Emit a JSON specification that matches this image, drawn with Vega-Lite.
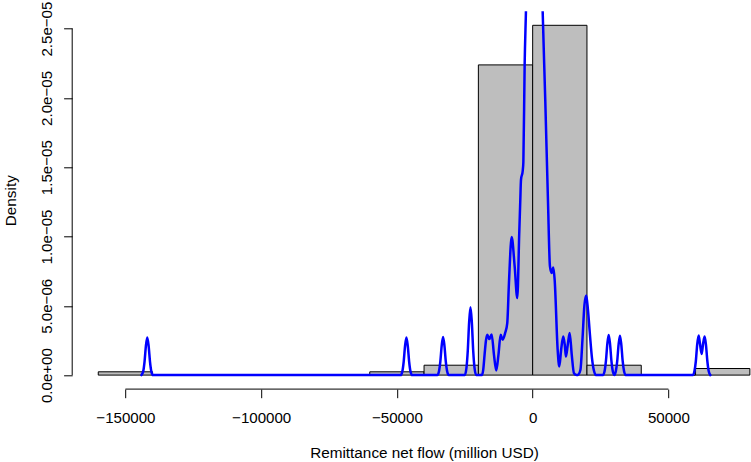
{
  "$schema": "https://vega.github.io/schema/vega-lite/v6.json",
  "width": 678.8,
  "height": 377.8,
  "autosize": {"type": "none"},
  "padding": {"left": 72.2, "top": 11.3, "right": 0, "bottom": 72.9},
  "background": "white",
  "config": {"view": {"stroke": null}, "font": "Liberation Sans"},
  "datasets": {
    "hist": [
      {"start": -160000, "end": -140000, "density": 2.381e-7},
      {"start": -140000, "end": -120000, "density": 0},
      {"start": -120000, "end": -100000, "density": 0},
      {"start": -100000, "end": -80000, "density": 0},
      {"start": -80000, "end": -60000, "density": 0},
      {"start": -60000, "end": -40000, "density": 2.381e-7},
      {"start": -40000, "end": -20000, "density": 7.143e-7},
      {"start": -20000, "end": 0, "density": 2.2381e-5},
      {"start": 0, "end": 20000, "density": 2.5238e-5},
      {"start": 20000, "end": 40000, "density": 7.143e-7},
      {"start": 40000, "end": 60000, "density": 0},
      {"start": 60000, "end": 80000, "density": 4.762e-7}
    ],
    "dens": [
      {"x": -144100, "y": 0}, {"x": -143450, "y": 0.27e-6}, {"x": -142950, "y": 0.98e-6}, {"x": -142450, "y": 2.11e-6},
      {"x": -141950, "y": 2.72e-6}, {"x": -141450, "y": 2.11e-6}, {"x": -140950, "y": 0.98e-6}, {"x": -140450, "y": 0.27e-6},
      {"x": -139850, "y": 0},
      {"x": -48600, "y": 0}, {"x": -48000, "y": 0.27e-6}, {"x": -47500, "y": 0.98e-6}, {"x": -47000, "y": 2.11e-6},
      {"x": -46500, "y": 2.72e-6}, {"x": -46000, "y": 2.11e-6}, {"x": -45500, "y": 0.98e-6}, {"x": -45000, "y": 0.27e-6},
      {"x": -44400, "y": 0},
      {"x": -35100, "y": 0}, {"x": -34500, "y": 0.28e-6}, {"x": -34000, "y": 0.99e-6}, {"x": -33500, "y": 2.13e-6},
      {"x": -33000, "y": 2.75e-6}, {"x": -32500, "y": 2.13e-6}, {"x": -32000, "y": 0.99e-6}, {"x": -31500, "y": 0.28e-6},
      {"x": -30900, "y": 0},
      {"x": -25000, "y": 0}, {"x": -24400, "y": 0.50e-6}, {"x": -23900, "y": 1.76e-6}, {"x": -23400, "y": 3.80e-6},
      {"x": -22900, "y": 4.90e-6}, {"x": -22400, "y": 3.80e-6}, {"x": -21900, "y": 1.76e-6}, {"x": -21400, "y": 0.50e-6},
      {"x": -20800, "y": 0},
      {"x": -18700, "y": 0}, {"x": -18200, "y": 0.4e-6}, {"x": -17700, "y": 1.5e-6}, {"x": -17200, "y": 2.5e-6},
      {"x": -16720, "y": 2.91e-6}, {"x": -15980, "y": 2.60e-6}, {"x": -15100, "y": 2.93e-6}, {"x": -14250, "y": 1.46e-6},
      {"x": -13400, "y": 0.33e-6}, {"x": -12600, "y": 1.46e-6}, {"x": -11790, "y": 2.91e-6}, {"x": -11050, "y": 2.55e-6},
      {"x": -10090, "y": 3.07e-6}, {"x": -9355, "y": 3.75e-6}, {"x": -8730, "y": 6.66e-6}, {"x": -7730, "y": 9.96e-6},
      {"x": -6630, "y": 7.84e-6}, {"x": -5670, "y": 5.56e-6}, {"x": -4940, "y": 10.25e-6}, {"x": -4550, "y": 12.65e-6},
      {"x": -4300, "y": 14.09e-6}, {"x": -3650, "y": 14.76e-6}, {"x": -3420, "y": 15.39e-6}, {"x": -2950, "y": 22.39e-6},
      {"x": -2470, "y": 26.28e-6}, {"x": -1900, "y": 31.5e-6}, {"x": 500, "y": 36e-6}, {"x": 3050, "y": 31.5e-6},
      {"x": 3680, "y": 26.28e-6}, {"x": 4640, "y": 19.86e-6}, {"x": 5630, "y": 12.65e-6}, {"x": 6370, "y": 7.84e-6},
      {"x": 7000, "y": 7.36e-6}, {"x": 7590, "y": 7.76e-6}, {"x": 8100, "y": 6.88e-6}, {"x": 9210, "y": 1.82e-6},
      {"x": 9800, "y": 0.62e-6}, {"x": 10530, "y": 1.9e-6}, {"x": 11270, "y": 2.78e-6}, {"x": 11820, "y": 2.19e-6},
      {"x": 12260, "y": 1.34e-6}, {"x": 12930, "y": 2.19e-6}, {"x": 13630, "y": 3.03e-6}, {"x": 14400, "y": 1.46e-6},
      {"x": 15210, "y": 0.14e-6}, {"x": 16200, "y": 0}, {"x": 16900, "y": 0.05e-6}, {"x": 17600, "y": 0.38e-6},
      {"x": 18340, "y": 2.55e-6}, {"x": 19080, "y": 5.07e-6}, {"x": 19740, "y": 5.74e-6}, {"x": 20370, "y": 4.71e-6},
      {"x": 21100, "y": 2.91e-6}, {"x": 21840, "y": 1.25e-6}, {"x": 22580, "y": 0.31e-6}, {"x": 23310, "y": 0},
      {"x": 25900, "y": 0}, {"x": 26500, "y": 0.29e-6}, {"x": 27000, "y": 1.04e-6}, {"x": 27500, "y": 2.25e-6},
      {"x": 28000, "y": 2.9e-6}, {"x": 28500, "y": 2.25e-6}, {"x": 29000, "y": 1.04e-6}, {"x": 29500, "y": 0.29e-6},
      {"x": 30100, "y": 0}, {"x": 30650, "y": 0.29e-6}, {"x": 31150, "y": 1.02e-6}, {"x": 31650, "y": 2.2e-6},
      {"x": 32150, "y": 2.84e-6}, {"x": 32650, "y": 2.2e-6}, {"x": 33150, "y": 1.02e-6}, {"x": 33650, "y": 0.29e-6},
      {"x": 34250, "y": 0},
      {"x": 59000, "y": 0}, {"x": 59600, "y": 0.29e-6}, {"x": 60100, "y": 1.0e-6}, {"x": 60600, "y": 2.2e-6},
      {"x": 61140, "y": 2.85e-6}, {"x": 61600, "y": 2.3e-6}, {"x": 62240, "y": 1.52e-6}, {"x": 62800, "y": 2.3e-6},
      {"x": 63350, "y": 2.78e-6}, {"x": 63850, "y": 2.15e-6}, {"x": 64350, "y": 1.0e-6}, {"x": 64850, "y": 0.28e-6},
      {"x": 65450, "y": 0}
    ]
  },
  "layer": [
    {
      "data": {"name": "hist"},
      "mark": {"type": "rect", "fill": "#BEBEBE", "stroke": "#000000", "strokeWidth": 1},
      "encoding": {
        "x": {
          "field": "start", "type": "quantitative", "title": "Remittance net flow (million USD)",
          "scale": {"domain": [-169600, 80420], "nice": false, "zero": false},
          "axis": {
            "values": [-150000, -100000, -50000, 0, 50000],
            "labelExpr": "replace(format(datum.value, 'd'), '-', '−')",
            "domain": false, "grid": false, "ticks": true, "tickSize": 8.6, "tickColor": "#000000", "tickWidth": 1,
            "labelFont": "Liberation Sans", "labelFontSize": 15.1, "labelColor": "#000000",
            "labelBaseline": "alphabetic", "labelAlign": "center", "labelPadding": 25, "labelFlush": false, "labelOverlap": false,
            "titleFont": "Liberation Sans", "titleFontSize": 15.3, "titleFontWeight": "normal", "titleColor": "#000000",
            "titleX": 351.8, "titleY": 68, "titleBaseline": "alphabetic", "titleAlign": "center", "titleAnchor": null
          }
        },
        "x2": {"field": "end"},
        "y": {
          "field": "density", "type": "quantitative", "title": "Density",
          "scale": {"domain": [-1.0095e-6, 2.6248e-5], "nice": false, "zero": false},
          "axis": {
            "values": [0, 5e-6, 1e-5, 1.5e-5, 2e-5, 2.5e-5],
            "labelExpr": "['0.0e+00','5.0e−06','1.0e−05','1.5e−05','2.0e−05','2.5e−05'][round(datum.value/5e-6)]",
            "domain": false, "grid": false, "ticks": true, "tickSize": 8.6, "tickColor": "#000000", "tickWidth": 1,
            "labelFont": "Liberation Sans", "labelFontSize": 15.1, "labelColor": "#000000",
            "labelAngle": 270, "labelAlign": "center", "labelBaseline": "alphabetic", "labelPadding": 11.9,
            "labelFlush": false, "labelOverlap": false,
            "titleFont": "Liberation Sans", "titleFontSize": 15.3, "titleFontWeight": "normal", "titleColor": "#000000",
            "titleAngle": 270, "titleX": -56.7, "titleY": 188.9, "titleBaseline": "alphabetic", "titleAlign": "center", "titleAnchor": null
          }
        },
        "y2": {"datum": 0}
      }
    },
    {
      "data": {"name": "dens"},
      "mark": {"type": "line", "color": "#0000FF", "strokeWidth": 2.5, "interpolate": "monotone", "clip": true, "strokeCap": "round", "strokeJoin": "round"},
      "encoding": {
        "x": {"field": "x", "type": "quantitative", "title": "Remittance net flow (million USD)"},
        "y": {"field": "y", "type": "quantitative", "title": "Density"}
      }
    },
    {
      "data": {"values": [{}]},
      "mark": {"type": "rule", "color": "#000000", "strokeWidth": 1},
      "encoding": {"x": {"datum": -150000}, "x2": {"datum": 50000}, "y": {"datum": -1.0095e-6}}
    },
    {
      "data": {"values": [{}]},
      "mark": {"type": "rule", "color": "#000000", "strokeWidth": 1},
      "encoding": {"x": {"datum": -169600}, "y": {"datum": 0}, "y2": {"datum": 2.5e-5}}
    }
  ]
}
